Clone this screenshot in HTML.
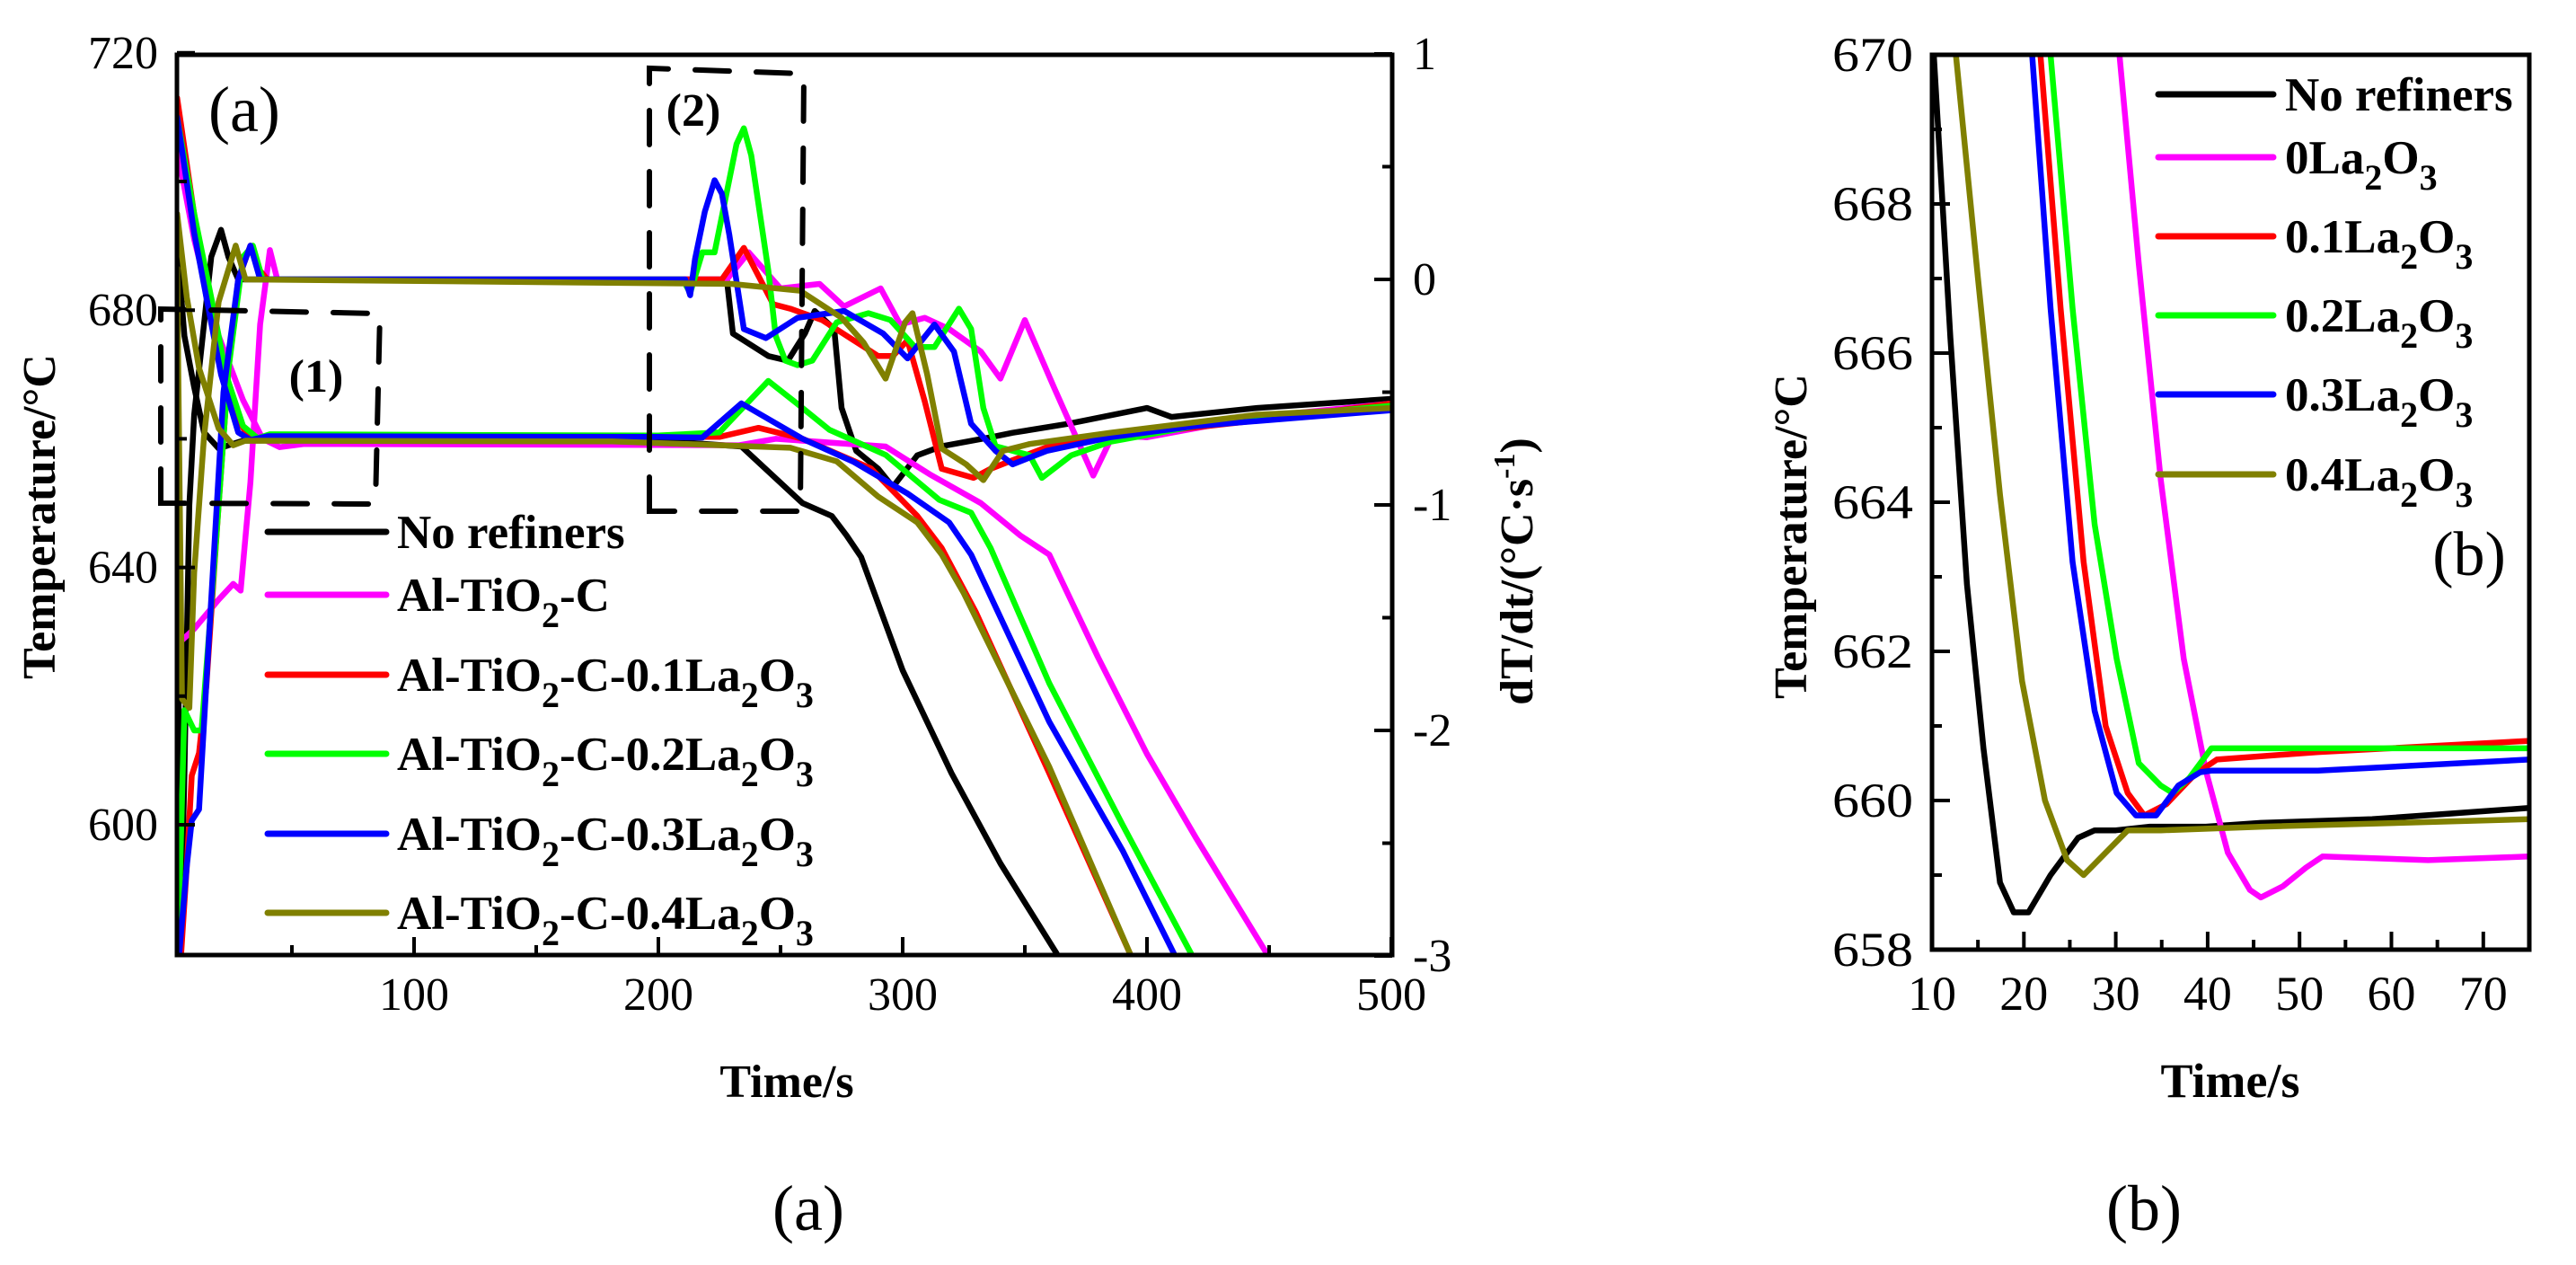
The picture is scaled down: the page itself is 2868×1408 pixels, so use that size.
<!DOCTYPE html>
<html><head><meta charset="utf-8">
<style>
html,body{margin:0;padding:0;background:#fff;}
svg{display:block;}
text{font-family:"Liberation Serif",serif;fill:#000;}
</style></head>
<body>
<svg id="fig" width="2868" height="1408" viewBox="0 0 2868 1408" xmlns="http://www.w3.org/2000/svg">
<defs>
<clipPath id="clipA"><rect x="197" y="61" width="1353" height="1002"/></clipPath>
<clipPath id="clipB"><rect x="2151" y="61" width="665" height="996"/></clipPath>
</defs>
<g id="panelA"></g>
<g id="panelB"></g>
</svg>
<script>
// ---------- Panel (a) data ----------
const seriesNamesA = ["No refiners","Al-TiO2-C","Al-TiO2-C-0.1La2O3","Al-TiO2-C-0.2La2O3","Al-TiO2-C-0.3La2O3","Al-TiO2-C-0.4La2O3"];
const seriesColors = ["#000000","#ff00ff","#ff0000","#00ff00","#0000ff","#808000"];
const xTicksA = [100,200,300,400,500];
const yTicksA = [600,640,680,720];
const y2TicksA = [1,0,-1,-2,-3];
// temperature curves [time, T]
const tempBlack = [[3,690],[6,676],[10,668],[14,661],[20,658.5],[30,659.7],[100,660],[200,659.7],[234,658.8],[259,650],[271,648],[277,645],[283,641.6],[300,624],[320,608],[340,594],[363,580]];
const tempMagenta = [[3,705],[10,691],[20,676],[30,666],[38,660],[45,658.7],[55,659.2],[233,659],[248,660],[293,658.8],[311,654.5],[332,650],[348,645],[360,642],[380,626],[400,611],[420,598],[449,580]];
const tempRed = [[3,713],[8,700],[15,682],[22,670],[28,663],[33,659.8],[41,660.6],[200,660.3],[225,660.3],[241,661.7],[259,660],[287,655.4],[306,648],[316,643],[330,633],[360,608],[393,580]];
const tempGreen = [[3,710],[10,695],[18,680],[23,670],[30,662],[36,660.1],[41,660.7],[200,660.5],[225,661],[245,669],[257,665.4],[270,661.4],[293,657.5],[315,650.5],[328,648.5],[336,643],[360,622],[390,600],[418,580]];
const tempBlue = [[3,710],[10,692],[17,678],[21,670],[28,661],[33,659.8],[40,660.4],[200,660.3],[218,660.2],[234,665.5],[259,660],[280,656.4],[302,651.5],[319,647],[328,642],[360,616],[390,596],[411,580]];
const tempOlive = [[3,695],[7,682],[12,671],[20,661.6],[26,659],[31,659.7],[181,659.6],[254,658.6],[273,656.5],[290,651],[306,647],[316,642],[325,636],[360,609],[393,580]];
// derivative curves [time, dT/dt]
const dBlack = [[3,0.15],[4,-3.1],[6,-2.2],[8,-1],[10,-0.6],[13,-0.3],[17,0.1],[21,0.22],[24,0.1],[28,0],[100,0],[228,0],[230.5,-0.24],[245,-0.34],[253,-0.36],[260,-0.24],[264,-0.14],[272,-0.22],[275,-0.57],[281,-0.76],[290,-0.84],[296,-0.92],[306,-0.78],[316,-0.74],[336,-0.7],[345,-0.68],[368,-0.64],[400,-0.57],[410,-0.61],[445,-0.57],[500,-0.53]];
const dMagenta = [[3,-1.62],[10,-1.55],[20,-1.42],[26,-1.35],[29,-1.38],[33,-0.9],[37,-0.2],[41,0.13],[44,0],[228,0],[237,0.12],[250,-0.04],[266,-0.02],[276,-0.12],[291,-0.04],[299,-0.2],[309,-0.17],[319,-0.22],[332,-0.32],[340,-0.44],[350,-0.18],[362,-0.48],[378,-0.87],[386,-0.69],[400,-0.7],[445,-0.61],[500,-0.55]];
const dRed = [[4,-3.1],[7,-2.6],[9,-2.2],[12,-2.1],[15,-1.8],[20,-1.0],[24,-0.4],[28,0],[33,0.15],[36,0.05],[40,0],[226,0],[235,0.14],[247,-0.11],[254,-0.13],[267,-0.18],[290,-0.34],[296,-0.34],[302,-0.27],[309,-0.54],[316,-0.84],[329,-0.88],[336,-0.84],[343,-0.81],[360,-0.74],[400,-0.68],[450,-0.62],[500,-0.55]];
const dGreen = [[3,-3.1],[6,-1.91],[10,-2.0],[13,-2.0],[18,-1.3],[24,-0.4],[30,0.1],[34,0.15],[38,0],[210,0],[213,-0.06],[218,0.12],[223,0.12],[232,0.6],[235,0.67],[238,0.55],[245,0.04],[248,-0.25],[252,-0.36],[257,-0.38],[263,-0.36],[273,-0.19],[286,-0.15],[295,-0.18],[305,-0.3],[313,-0.3],[323,-0.13],[328,-0.22],[333,-0.57],[338,-0.74],[352,-0.78],[357,-0.88],[369,-0.78],[385,-0.72],[420,-0.65],[460,-0.6],[500,-0.56]];
const dBlue = [[3,-3.1],[7,-2.6],[9,-2.4],[12,-2.35],[16,-1.6],[22,-0.5],[28,0],[33,0.15],[37,0],[211,0],[213,-0.07],[215,0.09],[219,0.3],[223,0.44],[226,0.38],[229,0.2],[235,-0.22],[244,-0.26],[257,-0.17],[276,-0.14],[292,-0.24],[302,-0.35],[313,-0.2],[321,-0.32],[328,-0.64],[338,-0.76],[345,-0.82],[359,-0.76],[385,-0.7],[420,-0.65],[500,-0.58]];
const dOlive = [[3,0.05],[5,-1.86],[8,-1.9],[10,-1.3],[14,-0.7],[20,-0.1],[27,0.15],[31,0],[230,-0.02],[258,-0.05],[275,-0.17],[284,-0.28],[293,-0.44],[301,-0.19],[304,-0.15],[310,-0.42],[316,-0.75],[326,-0.82],[333,-0.89],[341,-0.76],[352,-0.73],[385,-0.68],[445,-0.6],[500,-0.57]];

// ---------- Panel (b) data ----------
const seriesNamesB = ["No refiners","0La2O3","0.1La2O3","0.2La2O3","0.3La2O3","0.4La2O3"];
const xTicksB = [10,20,30,40,50,60,70];
const yTicksB = [658,660,662,664,666,668,670];
const bBlack = [[10.2,670],[12,666.2],[13.8,662.9],[15.6,660.7],[17.4,658.9],[18.9,658.5],[20.5,658.5],[22.9,659],[25.9,659.5],[27.7,659.6],[30,659.6],[33.7,659.65],[39.8,659.65],[45.8,659.7],[57.9,659.75],[75,659.9]];
const bMagenta = [[30.4,670],[32.5,667.2],[34.9,664.3],[37.4,661.9],[39.8,660.4],[42.2,659.3],[44.6,658.8],[45.8,658.7],[48.2,658.85],[50.7,659.1],[52.5,659.25],[64,659.2],[75,659.25]];
const bRed = [[21.8,670],[24,666.6],[26.5,663.2],[28.9,661],[31.3,660.1],[33.1,659.8],[35.5,659.95],[38.6,660.35],[41,660.55],[52,660.65],[75,660.8]];
const bGreen = [[22.9,670],[25.3,666.6],[27.7,663.7],[30.1,661.9],[32.5,660.5],[34.9,660.2],[36.2,660.1],[38,660.3],[40.4,660.7],[46,660.7],[75,660.7]];
const bBlue = [[20.9,670],[22.9,666.6],[25.3,663.2],[27.7,661.2],[30.1,660.1],[32.2,659.8],[34.4,659.8],[36.8,660.2],[39.2,660.38],[40.4,660.4],[52,660.4],[75,660.55]];
const bOlive = [[12.6,670],[15,667],[17.4,664.1],[19.8,661.6],[22.3,660],[24.7,659.2],[26.5,659.0],[28.9,659.3],[31.3,659.6],[34.9,659.6],[46,659.65],[75,659.75]];

const NS = "http://www.w3.org/2000/svg";
function mk(parent, tag, attrs, txt){
  const e = document.createElementNS(NS, tag);
  for (const k in attrs) e.setAttribute(k, attrs[k]);
  if (txt !== undefined) e.textContent = txt;
  parent.appendChild(e);
  return e;
}
const xA = t => 189 + t*2.72;
const yA = T => 918 - (T-600)*7.16;
const y2A = d => 311 - d*251;
const xB = t => 2151 + (t-10)*10.23;
const yB = T => 1057 - (T-658)*83.0;

function pathFrom(arr, fx, fy){
  return arr.map((p,i)=>(i?'L':'M')+fx(p[0]).toFixed(1)+' '+fy(p[1]).toFixed(1)).join(' ');
}

const gA = document.getElementById('panelA');
const gB = document.getElementById('panelB');
const LW = 6.5;

// ===== Panel A =====
const dataA = mk(gA,'g',{'clip-path':'url(#clipA)'});


const tempsA = [tempBlack,tempMagenta,tempRed,tempGreen,tempBlue,tempOlive];
const dersA = [dBlack,dMagenta,dRed,dGreen,dBlue,dOlive];
const keysA = ['no-refiners','al-tio2-c','al-tio2-c-0-1la2o3','al-tio2-c-0-2la2o3','al-tio2-c-0-3la2o3','al-tio2-c-0-4la2o3'];
for (let i=0;i<6;i++){
  const p1 = mk(dataA,'path',{d:pathFrom(tempsA[i],xA,yA),fill:'none',stroke:seriesColors[i],'stroke-width':LW,'stroke-linejoin':'round','stroke-linecap':'round'});
  
  
  const p2 = mk(dataA,'path',{d:pathFrom(dersA[i],xA,y2A),fill:'none',stroke:seriesColors[i],'stroke-width':LW,'stroke-linejoin':'round','stroke-linecap':'round'});
  
  
}
const frA = mk(gA,'rect',{x:197,y:61,width:1353,height:1002,fill:'none',stroke:'#000','stroke-width':5});


for (let t=50;t<=500;t+=50){
  const major = t%100===0;
  const tk = mk(gA,'line',{x1:xA(t),x2:xA(t),y1:1063,y2:1063-(major?20:11),stroke:'#000','stroke-width':4});
  
  
}
xTicksA.forEach(v=>{
  const l = mk(gA,'text',{x:xA(v),y:1124,'font-size':52,'text-anchor':'middle'},String(v));
  
  
});
for (let T=600;T<=720;T+=20){
  const major = (T-600)%40===0;
  const tk = mk(gA,'line',{x1:197,x2:197+(major?20:11),y1:yA(T),y2:yA(T),stroke:'#000','stroke-width':4});
  
  
}
yTicksA.forEach(v=>{
  const l = mk(gA,'text',{x:176,y:yA(v)+17,'font-size':52,'text-anchor':'end'},String(v));
  
  
});
for (let d=-3;d<=1;d+=0.5){
  const major = Number.isInteger(d);
  const tk = mk(gA,'line',{x1:1550,x2:1550-(major?20:11),y1:y2A(d),y2:y2A(d),stroke:'#000','stroke-width':4});
  
  
}
y2TicksA.forEach(v=>{
  const l = mk(gA,'text',{x:1573,y:y2A(v)+17,'font-size':52,'text-anchor':'start'},v<0?'-'+Math.abs(v):String(v));
  
  
});
const xtA = mk(gA,'text',{x:876,y:1221,'font-size':52,'font-weight':'bold','text-anchor':'middle'},'Time/s');


const ytA = mk(gA,'text',{x:0,y:0,'font-size':52,'font-weight':'bold','text-anchor':'middle',transform:'translate(61,575) rotate(-90)'},'Temperature/°C');


const y2tA = mk(gA,'text',{x:0,y:0,'font-size':52,'font-weight':'bold','text-anchor':'middle',transform:'translate(1706,636) rotate(-90)'});


y2tA.innerHTML = 'dT/dt/(°C·s<tspan dy="-20" font-size="34">-1</tspan><tspan dy="20">)</tspan>';
const pa = mk(gA,'text',{x:232,y:146,'font-size':72},'(a)');


const ca = mk(gA,'text',{x:900,y:1369,'font-size':72,'text-anchor':'middle'},'(a)');


const bx1 = mk(gA,'path',{d:'M179 560 L179 344 L423 349 L418 561 Z',fill:'none',stroke:'#000','stroke-width':6,'stroke-dasharray':'38 30','stroke-linecap':'round'});


const bx2 = mk(gA,'path',{d:'M723 569 L723 76 L895 82 L891 569 Z',fill:'none',stroke:'#000','stroke-width':6,'stroke-dasharray':'38 30','stroke-linecap':'round'});


const l1 = mk(gA,'text',{x:352,y:436,'font-size':52,'font-weight':'bold','text-anchor':'middle'},'(1)');


const l2 = mk(gA,'text',{x:772,y:140,'font-size':52,'font-weight':'bold','text-anchor':'middle'},'(2)');


const legYA = [592,662,751,839,928,1016];
const legA = mk(gA,'g',{});


const legTextA = ['No refiners','Al-TiO<tspan dy="18" font-size="40">2</tspan><tspan dy="-18">-C</tspan>'];
for (let k=1;k<=4;k++) legTextA.push('Al-TiO<tspan dy="18" font-size="40">2</tspan><tspan dy="-18">-C-0.'+k+'La</tspan><tspan dy="18" font-size="40">2</tspan><tspan dy="-18">O</tspan><tspan dy="18" font-size="40">3</tspan>');
for (let i=0;i<6;i++){
  const ln = mk(legA,'line',{x1:298,x2:430,y1:legYA[i],y2:legYA[i],stroke:seriesColors[i],'stroke-width':7,'stroke-linecap':'round'});
  
  
  const tx = mk(legA,'text',{x:442,y:legYA[i]+18,'font-size':53,'font-weight':'bold'});
  tx.innerHTML = legTextA[i];
  
  
}

// ===== Panel B =====
const dataB = mk(gB,'g',{'clip-path':'url(#clipB)'});


const seriesB = [bBlack,bMagenta,bRed,bGreen,bBlue,bOlive];
const keysB = ['no-refiners','0la2o3','0-1la2o3','0-2la2o3','0-3la2o3','0-4la2o3'];
for (let i=0;i<6;i++){
  const p = mk(dataB,'path',{d:pathFrom(seriesB[i],xB,yB),fill:'none',stroke:seriesColors[i],'stroke-width':LW,'stroke-linejoin':'round','stroke-linecap':'round'});
  
  
}
const frB = mk(gB,'rect',{x:2151,y:61,width:665,height:996,fill:'none',stroke:'#000','stroke-width':5});


for (let t=15;t<=75;t+=5){
  const major = t%10===0;
  const tk = mk(gB,'line',{x1:xB(t),x2:xB(t),y1:1057,y2:1057-(major?20:11),stroke:'#000','stroke-width':4});
  
  
}
xTicksB.forEach(v=>{
  const l = mk(gB,'text',{x:xB(v),y:1124,'font-size':54,'text-anchor':'middle'},String(v));
  
  
});
for (let T=659;T<=669;T+=1){
  const major = T%2===0;
  const tk = mk(gB,'line',{x1:2151,x2:2151+(major?20:11),y1:yB(T),y2:yB(T),stroke:'#000','stroke-width':4});
  
  
}
yTicksB.forEach(v=>{
  const l = mk(gB,'text',{x:2130,y:yB(v)+18,'font-size':54,'text-anchor':'end',textLength:90,lengthAdjust:'spacingAndGlyphs'},String(v));
  
  
});
const xtB = mk(gB,'text',{x:2483,y:1221,'font-size':54,'font-weight':'bold','text-anchor':'middle'},'Time/s');


const ytB = mk(gB,'text',{x:0,y:0,'font-size':52,'font-weight':'bold','text-anchor':'middle',transform:'translate(2011,597) rotate(-90)'},'Temperature/°C');


const pb = mk(gB,'text',{x:2749,y:640,'font-size':70,'text-anchor':'middle'},'(b)');


const cb = mk(gB,'text',{x:2387,y:1369,'font-size':72,'text-anchor':'middle'},'(b)');


const legYB = [105,175,263,351,439,528];
const legB = mk(gB,'g',{});


const legTextB = ['No refiners','0La<tspan dy="18" font-size="40">2</tspan><tspan dy="-18">O</tspan><tspan dy="18" font-size="40">3</tspan>'];
for (let k=1;k<=4;k++) legTextB.push('0.'+k+'La<tspan dy="18" font-size="40">2</tspan><tspan dy="-18">O</tspan><tspan dy="18" font-size="40">3</tspan>');
for (let i=0;i<6;i++){
  const ln = mk(legB,'line',{x1:2403,x2:2531,y1:legYB[i],y2:legYB[i],stroke:seriesColors[i],'stroke-width':7,'stroke-linecap':'round'});
  
  
  const tx = mk(legB,'text',{x:2544,y:legYB[i]+18,'font-size':53,'font-weight':'bold'});
  tx.innerHTML = legTextB[i];
  
  
}
</script>
</body></html>
